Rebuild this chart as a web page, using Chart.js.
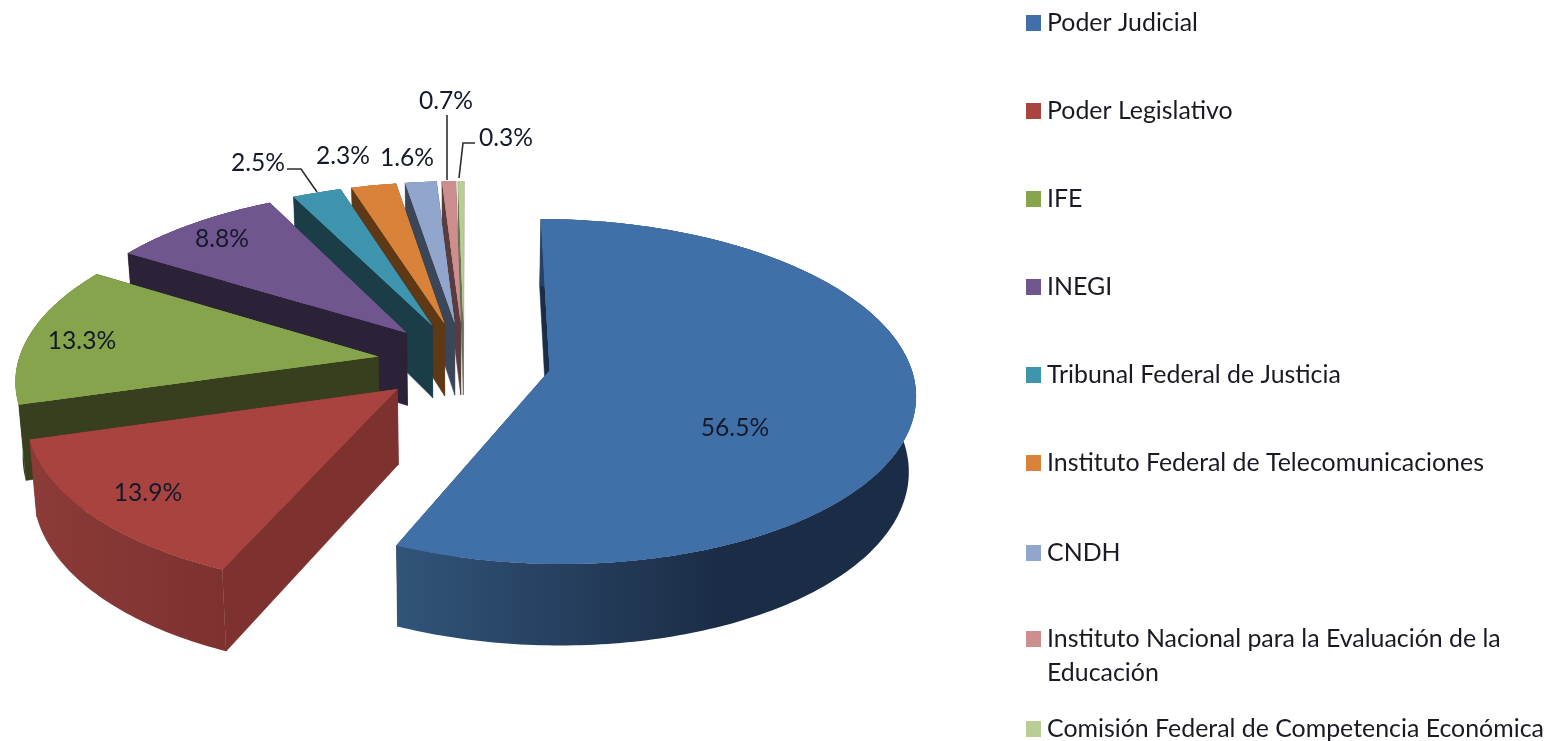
<!DOCTYPE html>
<html><head><meta charset="utf-8">
<style>html,body{margin:0;padding:0;background:#fff;overflow:hidden}canvas{display:block;filter:blur(0.45px)}</style>
<script src="https://cdn.jsdelivr.net/npm/chart.js@4/dist/chart.umd.min.js"></script>
</head><body>
<canvas id="c" width="1555" height="741"></canvas>
<script>
const categories = ["Poder Judicial","Poder Legislativo","IFE","INEGI","Tribunal Federal de Justicia","Instituto Federal de Telecomunicaciones","CNDH","Instituto Nacional para la Evaluación de la Educación","Comisión Federal de Competencia Económica"];
const shares = [56.5,13.9,13.3,8.8,2.5,2.3,1.6,0.7,0.3];
const topColors = ["#4170a8","#a84340","#86a44c","#70568e","#3f95ae","#d8823a","#91a6cd","#cc8f8e","#b9cd95"];
const wallColors = ["#1b2d46","#7d3230","#373f1e","#2c2237","#1a3d47","#5f3816","#3b4658","#5a3c3f","#6a7556"];
const outerLeftColors = ["#315479","#8b3b38","#373f1e","#2c2237","#1a3d47","#5f3816","#3b4658","#5a3c3f","#6a7556"];
const legendLines = [["Poder Judicial"],["Poder Legislativo"],["IFE"],["INEGI"],["Tribunal Federal de Justicia"],["Instituto Federal de Telecomunicaciones"],["CNDH"],["Instituto Nacional para la Evaluación de la","Educación"],["Comisión Federal de Competencia Económica"]];
const legendRowY = [22,110,198,286,374,462,552,638,728];
const labelAt = [[735,428],[148,493],[82,341],[222,239],[258,163],[343,156],[407,158],[446,101],[506,138]];
const leaders = [[[287,169],[301,169],[317,192]],[[447,115],[447,180]],[[475,143],[463,143],[459,178]]];

// view model
const CX=464, CY=362, K=0.4660, P=0.000338, EXPLODE=87, RADIUS=360, STEP=3;
const FONT='"Lato","Carlito","Open Sans",sans-serif';
const W=y=>1-y*P;
const prX=(x,y)=>CX+x/W(y);
const prY=y=>CY+K*y/W(y);
const top3=(x,y)=>[prX(x,y),prY(y)];
const bot3=(x,y)=>[CX+(prX(x,y)-CX)*0.984,prY(y)+74+0.02*y];

function poly(ctx,pts,fill){
  ctx.beginPath();pts.forEach((p,i)=>i?ctx.lineTo(p[0],p[1]):ctx.moveTo(p[0],p[1]));ctx.closePath();
  ctx.fillStyle=fill;ctx.fill();
  if(typeof fill==='string'){ctx.strokeStyle=fill;ctx.lineWidth=0.5;ctx.stroke();}
}
function drawSlice(chart,ctx,el,i){
  const mid=(el.startAngle+el.endAngle)/2, ex=Math.cos(mid)*EXPLODE, ey=Math.sin(mid)*EXPLODE, R=el.outerRadius;
  const pt=a=>[ex+Math.cos(a)*R,ey+Math.sin(a)*R];
  const n=Math.max(4,Math.ceil((el.endAngle-el.startAngle)*60));
  const arc=[];for(let j=0;j<=n;j++)arc.push(pt(el.startAngle+(el.endAngle-el.startAngle)*j/n));
  const tip=[ex,ey];
  const edge=(a,b)=>[top3(a[0],a[1]),top3(b[0],b[1]),bot3(b[0],b[1]),bot3(a[0],a[1])];
  // walls
  poly(ctx,edge(tip,arc[0]),wallColors[i]);
  poly(ctx,edge(tip,arc[n]),wallColors[i]);
  const t=arc.map(p=>top3(p[0],p[1])), b=arc.map(p=>bot3(p[0],p[1])).reverse();
  const xs=t.map(p=>p[0]);
  const x0=Math.min(...xs), x1=Math.max(...xs);
  const g=ctx.createLinearGradient(x0,0,Math.max(x1,x0+1),0);
  g.addColorStop(0,outerLeftColors[i]);
  g.addColorStop(i===0?0.62:1,wallColors[i]);
  g.addColorStop(1,wallColors[i]);
  poly(ctx,t.concat(b),g);
  // same-colour underlay so that strip seams cannot show the walls through
  ctx.beginPath();
  const u=[top3(tip[0],tip[1])].concat(t);
  u.forEach((p,k)=>k?ctx.lineTo(p[0],p[1]):ctx.moveTo(p[0],p[1]));ctx.closePath();
  ctx.fillStyle=topColors[i];ctx.fill();
  // top face: the library's own arc, drawn strip by strip through the perspective
  const ys=arc.map(p=>p[1]).concat([ey]);
  const ymin=Math.min(...ys)-1,ymax=Math.max(...ys)+1;
  for(let y0=ymin;y0<ymax;y0+=STEP){
    const y1=y0+STEP, a=1/W((y0+y1)/2), d=(prY(y1)-prY(y0))/STEP;
    ctx.save();
    ctx.setTransform(a,0,0,d,CX+a*(ex-el.x),prY(y0)+d*(ey-el.y-y0));
    ctx.beginPath();
    ctx.rect(el.x-ex-R*2,el.y-ey+y0,R*4,STEP+1.2);
    ctx.clip();
    el.draw(ctx);
    ctx.restore();
  }
}
const pie3d={id:'pie3d',
  beforeDatasetDraw(chart,args){
    const ctx=chart.ctx, els=args.meta.data;
    const order=els.map((e,i)=>i).sort((a,b)=>{
      const s=e=>Math.sin((e.startAngle+e.endAngle)/2);return s(els[a])-s(els[b]);});
    order.forEach(i=>drawSlice(chart,ctx,els[i],i));
    return false;
  },
  afterDraw(chart){
    const ctx=chart.ctx;
    ctx.save();
    ctx.strokeStyle='#2e2e2e';ctx.lineWidth=1.6;
    leaders.forEach(l=>{ctx.beginPath();l.forEach((p,i)=>i?ctx.lineTo(p[0],p[1]):ctx.moveTo(p[0],p[1]));ctx.stroke();});
    ctx.font='24.6px '+FONT;ctx.textBaseline='middle';ctx.textAlign='center';ctx.fillStyle='#151a2a';
    shares.forEach((v,i)=>ctx.fillText(v.toFixed(1)+'%',labelAt[i][0],labelAt[i][1]));
    ctx.textAlign='left';
    ctx.font='24.9px '+FONT;
    legendLines.forEach((lines,i)=>{
      const y=legendRowY[i];
      ctx.fillStyle=topColors[i];ctx.fillRect(1026,y-7,15,16);
      ctx.fillStyle='#1a1a24';
      lines.forEach((s,j)=>ctx.fillText(s,1047,y+1+j*34));
    });
    ctx.restore();
  }
};
new Chart(document.getElementById('c'),{
  type:'pie',
  data:{labels:categories,datasets:[{data:shares,backgroundColor:topColors,borderWidth:0}]},
  options:{responsive:false,animation:false,radius:RADIUS,rotation:0.1,
    plugins:{legend:{display:false},tooltip:{enabled:false}}},
  plugins:[pie3d]
});
</script>
</body></html>
